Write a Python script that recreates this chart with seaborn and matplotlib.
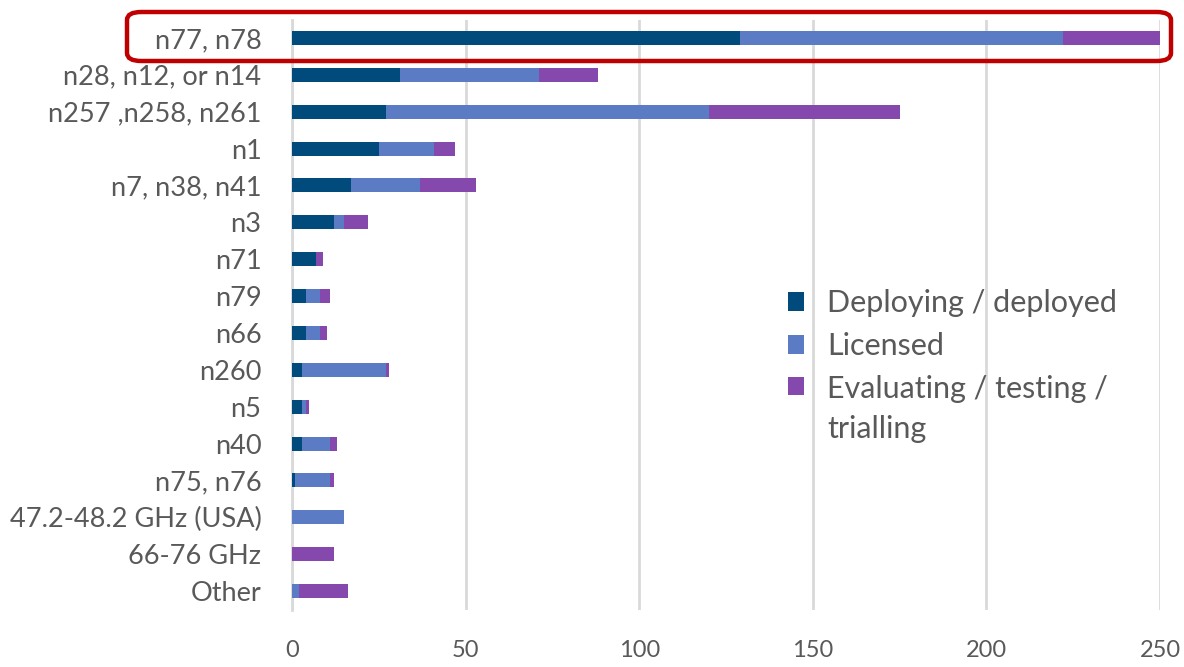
import numpy as np
import pandas as pd
import seaborn as sns
import matplotlib
matplotlib.use("Agg")
import matplotlib.pyplot as plt
from matplotlib.patches import FancyBboxPatch, Patch, Rectangle
from matplotlib.legend_handler import HandlerPatch

categories = ["n77, n78", "n28, n12, or n14", "n257 ,n258, n261", "n1", "n7, n38, n41",
              "n3", "n71", "n79", "n66", "n260", "n5", "n40", "n75, n76",
              "47.2-48.2 GHz (USA)", "66-76 GHz", "Other"]
deploying = [129, 31, 27, 25, 17, 12, 7, 4, 4, 3, 3, 3, 1, 0, 0, 0]
licensed = [93, 40, 93, 16, 20, 3, 0, 4, 4, 24, 1, 8, 10, 15, 0, 2]
evaluating = [28, 17, 55, 6, 16, 7, 2, 3, 2, 1, 1, 2, 1, 0, 12, 14]
series_names = ["Deploying / deployed", "Licensed", "Evaluating / testing /\ntrialling"]
xticks = [0, 50, 100, 150, 200, 250]

colors = ["#004A7C", "#5B7BC4", "#8549AD"]
text_color = "#595959"

sns.set_theme(style="white")
plt.rcParams['font.family'] = ['Lato', 'DejaVu Sans']

df = pd.DataFrame({"cat": categories, "d": deploying, "l": licensed, "e": evaluating})
df["c1"] = df["d"]
df["c2"] = df["d"] + df["l"]
df["c3"] = df["c2"] + df["e"]

fig = plt.figure(figsize=(11.84, 6.67), dpi=100)
ax = fig.add_axes([292 / 1184, 1 - 609.5 / 667, 868 / 1184, 590 / 667])

for col, c in zip(["c3", "c2", "c1"], colors[::-1]):
    sns.barplot(data=df, x=col, y="cat", order=categories, orient="h", color=c,
                width=0.38, ax=ax, saturation=1, edgecolor="none", linewidth=0, zorder=3)

ax.set_xlim(0, 250)
ax.set_ylim(len(categories) - 0.5, -0.5)
ax.set_xticks(xticks)
ax.set_xticklabels([str(t) for t in xticks], fontsize=17, color=text_color)
ax.tick_params(axis="y", labelsize=19.5, labelcolor=text_color, length=0, pad=22)
ax.tick_params(axis="x", length=0, pad=22)
ax.set_xlabel("")
ax.set_ylabel("")
ax.xaxis.grid(True, color="#D9D9D9", linewidth=2, zorder=0)
ax.yaxis.grid(False)
for s in ["top", "right", "bottom"]:
    ax.spines[s].set_visible(False)
ax.spines["left"].set_color("#D9D9D9")
ax.spines["left"].set_linewidth(2)


def top_aligned(legend, orig_handle, xdescent, ydescent, width, height, fontsize):
    return Rectangle((-xdescent, -ydescent + 17), width, height)


handles = [Patch(facecolor=c, edgecolor="none") for c in colors]
leg = fig.legend(handles, series_names, loc="upper left",
                 bbox_to_anchor=(760 / 1184, 1 - 262 / 667),
                 frameon=False, fontsize=22, labelcolor=text_color, handlelength=0.55,
                 handleheight=0.55, handletextpad=0.75, labelspacing=0.48,
                 handler_map={handles[2]: HandlerPatch(patch_func=top_aligned)})
for t in leg.get_texts():
    t.set_linespacing(1.55)

box = FancyBboxPatch((127 / 1184, 1 - 61 / 667), (1171 - 127) / 1184, 49 / 667,
                     boxstyle="round,pad=0,rounding_size=0.012", transform=fig.transFigure,
                     facecolor="none", edgecolor="#C00000", linewidth=3.2, zorder=10)
fig.patches.append(box)

fig.savefig("out.png", dpi=100)
